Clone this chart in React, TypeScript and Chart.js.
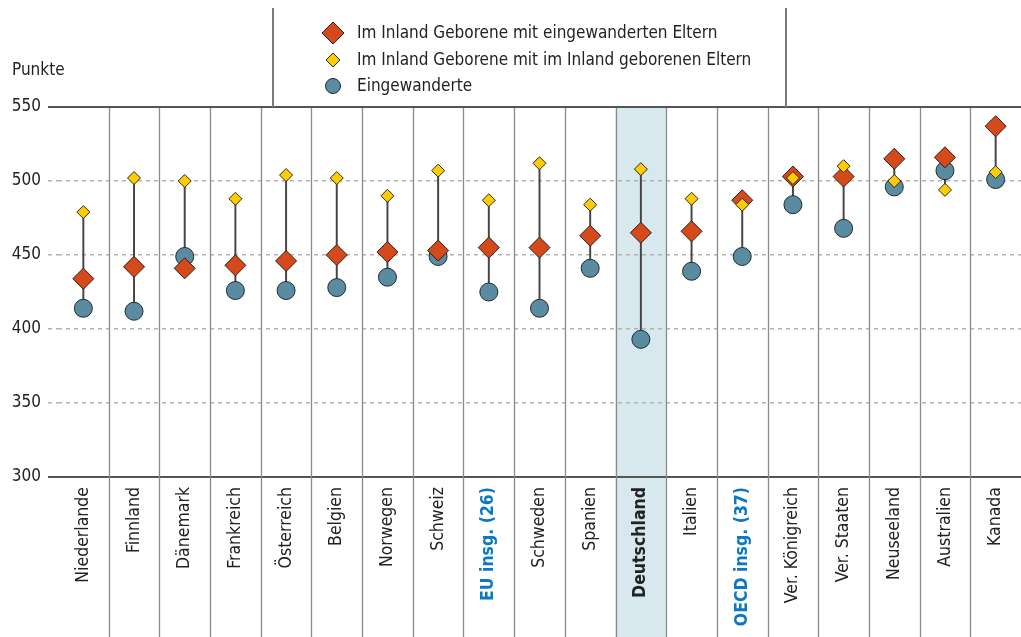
import React, { useEffect, useRef } from 'react';
import { Chart, registerables } from 'chart.js';

Chart.register(...registerables);

const categories = [
  'Niederlande', 'Finnland', 'Dänemark', 'Frankreich', 'Österreich', 'Belgien', 'Norwegen',
  'Schweiz', 'EU insg. (26)', 'Schweden', 'Spanien', 'Deutschland', 'Italien', 'OECD insg. (37)',
  'Ver. Königreich', 'Ver. Staaten', 'Neuseeland', 'Australien', 'Kanada',
];

// Im Inland Geborene mit eingewanderten Eltern
const secondGeneration = [434, 442, 441, 443, 446, 450, 452, 453, 455, 455, 463, 465, 466, 487, 503, 503, 515, 516, 537];
// Im Inland Geborene mit im Inland geborenen Eltern
const nativeParents = [479, 502, 500, 488, 504, 502, 490, 507, 487, 512, 484, 508, 488, 484, 502, 510, 500, 494, 506];
// Eingewanderte
const firstGeneration = [414, 412, 449, 426, 426, 428, 435, 449, 425, 414, 441, 393, 439, 449, 484, 468, 496, 507, 501];

const seriesLabels = [
  'Im Inland Geborene mit eingewanderten Eltern',
  'Im Inland Geborene mit im Inland geborenen Eltern',
  'Eingewanderte',
];

const yMin = 300;
const yMax = 550;
const yStep = 50;
const yTitle = 'Punkte';

const highlightCategory = 'Deutschland';
const blueCategories = ['EU insg. (26)', 'OECD insg. (37)'];
const boldCategories = ['EU insg. (26)', 'OECD insg. (37)', 'Deutschland'];

const FONT = '"DejaVu Sans Condensed", "Liberation Sans Narrow", "Open Sans", sans-serif';
const RED = '#d5491b';
const YELLOW = '#ffcc00';
const BLUE = '#5b8ba1';
const TEXT = '#222222';
const LINKBLUE = '#0a78c4';

const W = 1021;
const H = 637;

function boundaries(chart: any): number[] {
  const xs = chart.scales.x;
  const out: number[] = [];
  for (let i = 0; i < categories.length - 1; i++) {
    out.push((xs.getPixelForValue(i) + xs.getPixelForValue(i + 1)) / 2);
  }
  return out;
}

const bandPlugin = {
  id: 'band',
  beforeDraw(chart: any) {
    const { ctx, chartArea } = chart;
    const xs = chart.scales.x;
    const idx = categories.indexOf(highlightCategory);
    const half = (xs.getPixelForValue(1) - xs.getPixelForValue(0)) / 2;
    const c = xs.getPixelForValue(idx);
    ctx.save();
    ctx.fillStyle = '#d7e8ee';
    ctx.fillRect(c - half, chartArea.top, half * 2, chart.height - chartArea.top);
    ctx.restore();
  },
};

const separatorPlugin = {
  id: 'separators',
  beforeDatasetsDraw(chart: any) {
    const { ctx, chartArea } = chart;
    ctx.save();
    ctx.strokeStyle = '#8a8a8a';
    ctx.lineWidth = 1.3;
    boundaries(chart).forEach((x) => {
      const px = Math.round(x) + 0.5;
      ctx.beginPath();
      ctx.moveTo(px, chartArea.top + 1);
      ctx.lineTo(px, chart.height);
      ctx.stroke();
    });
    ctx.restore();
  },
};

function drawMarker(ctx: CanvasRenderingContext2D, style: string, x: number, y: number, r: number, fill: string, stroke: string) {
  ctx.beginPath();
  if (style === 'circle') {
    ctx.arc(x, y, r, 0, Math.PI * 2);
  } else {
    ctx.moveTo(x, y - r);
    ctx.lineTo(x + r, y);
    ctx.lineTo(x, y + r);
    ctx.lineTo(x - r, y);
    ctx.closePath();
  }
  ctx.fillStyle = fill;
  ctx.fill();
  ctx.lineWidth = 1;
  ctx.strokeStyle = stroke;
  ctx.stroke();
}

const legendPlugin = {
  id: 'customLegend',
  afterDraw(chart: any) {
    const { ctx, chartArea } = chart;
    ctx.save();
    ctx.strokeStyle = '#7a7a7a';
    ctx.lineWidth = 2;
    [273, 786].forEach((x) => {
      ctx.beginPath();
      ctx.moveTo(x, 8);
      ctx.lineTo(x, chartArea.top);
      ctx.stroke();
    });
    const rows = [33, 60, 86];
    const radii = [11, 7, 7.5];
    chart.data.datasets.forEach((ds: any, i: number) => {
      if (ds.type === 'bar') return;
      drawMarker(ctx, ds.pointStyle, 333, rows[i], radii[i], ds.pointBackgroundColor, ds.pointBorderColor);
      ctx.fillStyle = TEXT;
      ctx.font = `17px ${FONT}`;
      ctx.textAlign = 'left';
      ctx.textBaseline = 'middle';
      ctx.fillText(ds.label, 357, rows[i] + 1);
    });
    ctx.font = `17px ${FONT}`;
    ctx.fillStyle = TEXT;
    ctx.textAlign = 'left';
    ctx.textBaseline = 'middle';
    ctx.fillText(yTitle, 12, 71);
    ctx.restore();
  },
};

export default function App() {
  const ref = useRef<HTMLCanvasElement | null>(null);

  useEffect(() => {
    if (!ref.current) return;
    const ranges = categories.map((_, i) => {
      const v = [secondGeneration[i], nativeParents[i], firstGeneration[i]];
      return [Math.min(...v), Math.max(...v)];
    });
    const isEdge = (v: number) => v === yMin || v === yMax;
    const chart = new Chart(ref.current, {
      type: 'line',
      data: {
        labels: categories,
        datasets: [
          {
            type: 'line',
            label: seriesLabels[0],
            data: secondGeneration,
            showLine: false,
            pointStyle: 'rectRot',
            pointRadius: 10.5,
            pointBackgroundColor: RED,
            pointBorderColor: '#2b1f1a',
            pointBorderWidth: 1,
            order: 1,
          },
          {
            type: 'line',
            label: seriesLabels[1],
            data: nativeParents,
            showLine: false,
            pointStyle: 'rectRot',
            pointRadius: 6.5,
            pointBackgroundColor: YELLOW,
            pointBorderColor: '#2b2b1a',
            pointBorderWidth: 1,
            order: 0,
          },
          {
            type: 'line',
            label: seriesLabels[2],
            data: firstGeneration,
            showLine: false,
            pointStyle: 'circle',
            pointRadius: 9,
            pointBackgroundColor: BLUE,
            pointBorderColor: '#1d2b33',
            pointBorderWidth: 1,
            order: 2,
          },
          {
            type: 'bar',
            label: 'Spanne',
            data: ranges as any,
            backgroundColor: '#444444',
            borderWidth: 0,
            barThickness: 1.3,
            order: 3,
          } as any,
        ],
      },
      options: {
        animation: false,
        responsive: false,
        devicePixelRatio: 1,
        layout: { autoPadding: false, padding: { top: 107, right: 0, left: 0, bottom: 0 } },
        plugins: { legend: { display: false }, tooltip: { enabled: false } },
        font: { family: FONT },
        scales: {
          x: {
            type: 'category',
            offset: true,
            grid: { display: false, drawTicks: false },
            border: { display: false },
            ticks: {
              autoSkip: false,
              maxRotation: 90,
              minRotation: 90,
              padding: 10,
              color: (c: any) => (blueCategories.includes(categories[c.index]) ? LINKBLUE : TEXT),
              font: (c: any) => ({
                family: FONT,
                size: 17.5,
                weight: boldCategories.includes(categories[c.index]) ? 'bold' : 'normal',
              }),
            },
            afterFit: (s: any) => {
              s.height = 160;
              s.paddingLeft = 0;
              s.paddingRight = 0;
            },
          },
          y: {
            min: yMin,
            max: yMax,
            border: {
              display: false,
              dash: (c: any) => (c.tick && isEdge(c.tick.value) ? [] : [4, 4]),
            },
            grid: {
              drawTicks: true,
              tickLength: 10,
              color: (c: any) => (c.tick && isEdge(c.tick.value) ? '#555555' : '#b2b2b2'),
              tickColor: (c: any) => (c.tick && isEdge(c.tick.value) ? '#555555' : '#b2b2b2'),
              lineWidth: (c: any) => (c.tick && isEdge(c.tick.value) ? 2 : 1.5),
              tickWidth: (c: any) => (c.tick && isEdge(c.tick.value) ? 2 : 1.5),
              tickBorderDash: (c: any) => (c.tick && isEdge(c.tick.value) ? [] : [4, 4]),
            },
            ticks: {
              stepSize: yStep,
              padding: 7,
              color: TEXT,
              font: { family: FONT, size: 17 },
            },
            afterFit: (s: any) => {
              s.width = 58;
              s.paddingTop = 0;
              s.paddingBottom = 0;
            },
          },
        },
      } as any,
      plugins: [bandPlugin, separatorPlugin, legendPlugin],
    });
    return () => chart.destroy();
  }, []);

  return (
    <div style={{ position: 'fixed', left: 0, top: 0, width: W, height: H, background: '#fff' }}>
      <canvas ref={ref} width={W} height={H} style={{ display: 'block', width: W, height: H }} />
    </div>
  );
}
